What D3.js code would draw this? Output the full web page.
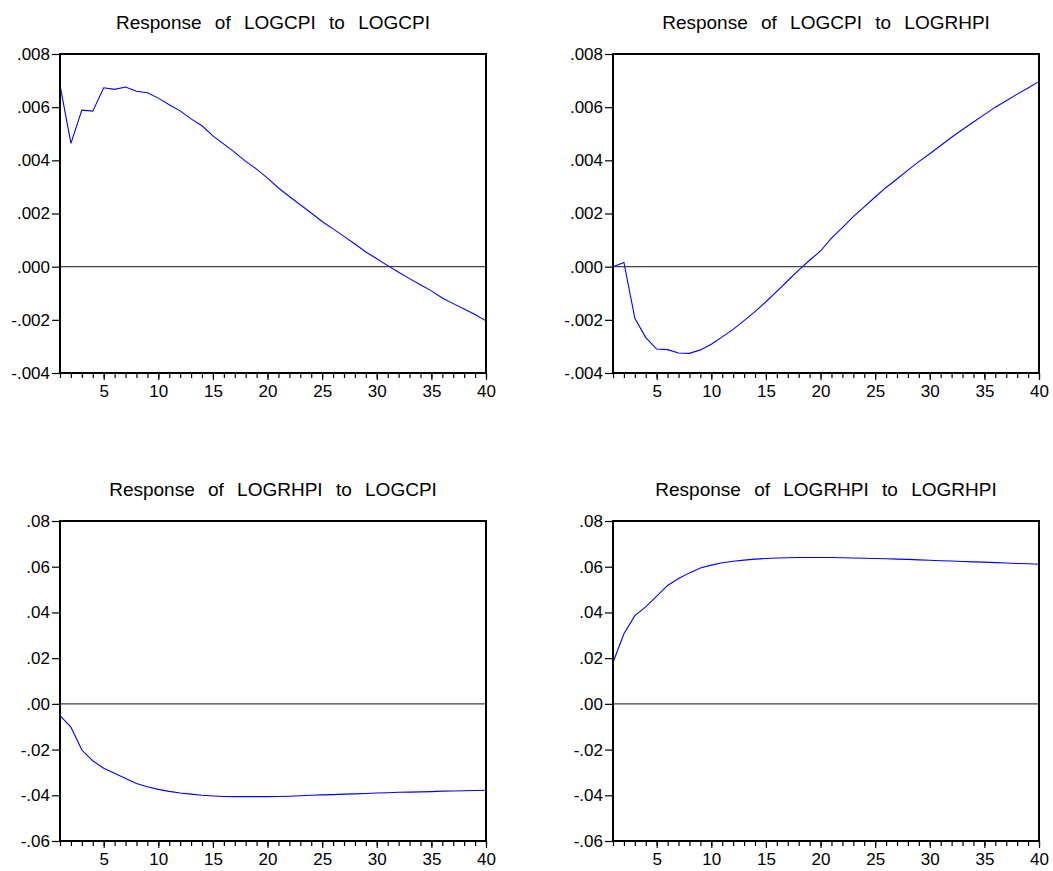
<!DOCTYPE html>
<html lang="en">
<head>
    <meta charset="UTF-8">
    <title>Impulse Responses</title>
    <style>
        body { margin: 0; background: #fff; }
        svg { display: block; font-family: Arial, "Liberation Sans", sans-serif; }
        .title { font-size: 19px; word-spacing: 8px; fill: #000; }
        .tick text { font-size: 17px; fill: #000; }
        .tick line { stroke: #000; }
        .domain { display: none; }
    </style>
</head>
<body>
    <div id="chart"></div>
    <script src="https://d3js.org/d3.v7.min.js"></script>
    <script>
        const width = 1053, height = 871;

        // horizon (periods)
        const periods = d3.range(1, 41);

        // Response of LOGCPI to LOGCPI
        const cpiToCpi = [
            0.00683, 0.00464, 0.00589, 0.00585, 0.00673, 0.00667, 0.00676, 0.00660, 0.00654, 0.00634,
            0.00609, 0.00586, 0.00556, 0.00530, 0.00492, 0.00461, 0.00430, 0.00396, 0.00367, 0.00333,
            0.00296, 0.00264, 0.00233, 0.00202, 0.00170, 0.00142, 0.00114, 0.00085, 0.00055, 0.00030,
            0.00004, -0.00021, -0.00045, -0.00068, -0.00091, -0.00118, -0.00139, -0.00159, -0.00180, -0.00204
        ];

        // Response of LOGCPI to LOGRHPI
        const cpiToRhpi = [
            0.00000, 0.00016, -0.00194, -0.00267, -0.00310, -0.00312, -0.00325, -0.00326, -0.00313, -0.00292,
            -0.00264, -0.00236, -0.00203, -0.00169, -0.00132, -0.00093, -0.00053, -0.00013, 0.00024, 0.00059,
            0.00107, 0.00147, 0.00188, 0.00225, 0.00262, 0.00298, 0.00330, 0.00363, 0.00395, 0.00425,
            0.00456, 0.00487, 0.00516, 0.00544, 0.00572, 0.00600, 0.00624, 0.00649, 0.00672, 0.00697
        ];

        // Response of LOGRHPI to LOGCPI
        const rhpiToCpi = [
            -0.0051, -0.0102, -0.0202, -0.0249, -0.0282, -0.0304, -0.0327, -0.0348, -0.0363, -0.0374,
            -0.0383, -0.0390, -0.0395, -0.0400, -0.0403, -0.0405, -0.0406, -0.0406, -0.0406, -0.0406,
            -0.0405, -0.0404, -0.0402, -0.0400, -0.0398, -0.0397, -0.0395, -0.0394, -0.0392, -0.0390,
            -0.0389, -0.0387, -0.0386, -0.0385, -0.0384, -0.0382, -0.0381, -0.0380, -0.0379, -0.0378
        ];

        // Response of LOGRHPI to LOGRHPI
        const rhpiToRhpi = [
            0.0181, 0.0307, 0.0386, 0.0424, 0.0471, 0.0518, 0.0548, 0.0573, 0.0594, 0.0607,
            0.0617, 0.0624, 0.0629, 0.0633, 0.0636, 0.0638, 0.0639, 0.0640, 0.0640, 0.0640,
            0.0640, 0.0639, 0.0638, 0.0637, 0.0636, 0.0635, 0.0633, 0.0632, 0.0630, 0.0628,
            0.0626, 0.0625, 0.0623, 0.0621, 0.0620, 0.0618, 0.0616, 0.0614, 0.0613, 0.0611
        ];

        const titles = [
            "Response of LOGCPI to LOGCPI",
            "Response of LOGCPI to LOGRHPI",
            "Response of LOGRHPI to LOGCPI",
            "Response of LOGRHPI to LOGRHPI"
        ];

        const cpiTicks = [-0.004, -0.002, 0, 0.002, 0.004, 0.006, 0.008];
        const rhpiTicks = [-0.06, -0.04, -0.02, 0, 0.02, 0.04, 0.06, 0.08];

        // drop the leading zero like ".008" / "-.02", plain hyphen for minus
        const fmt = digits => v => v.toFixed(digits).replace("0.", ".");

        const panels = [
            { series: cpiToCpi, ticks: cpiTicks, digits: 3, box: [60, 54, 486, 373] },
            { series: cpiToRhpi, ticks: cpiTicks, digits: 3, box: [613, 54, 1039, 373] },
            { series: rhpiToCpi, ticks: rhpiTicks, digits: 2, box: [60, 521, 486, 841] },
            { series: rhpiToRhpi, ticks: rhpiTicks, digits: 2, box: [613, 521, 1039, 841] }
        ];

        const svg = d3.select("#chart")
            .append("svg")
            .attr("width", width)
            .attr("height", height);

        panels.forEach((p, i) => {
            const [x0, y0, x1, y1] = p.box;
            const g = svg.append("g");

            const x = d3.scaleLinear().domain([1, 40]).range([x0, x1]);
            const y = d3.scaleLinear()
                .domain([p.ticks[0], p.ticks[p.ticks.length - 1]])
                .range([y1, y0]);

            // title
            g.append("text")
                .attr("class", "title")
                .attr("x", (x0 + x1) / 2)
                .attr("y", y0 - 25)
                .attr("text-anchor", "middle")
                .text(titles[i]);

            // y axis
            g.append("g")
                .attr("transform", `translate(${x0},0)`)
                .call(d3.axisLeft(y).tickValues(p.ticks).tickFormat(fmt(p.digits))
                    .tickSize(8).tickSizeOuter(0).tickPadding(2))
                .selectAll(".tick line").attr("stroke-width", 1.2);

            // x axis: minor ticks every period, labelled every 5
            g.append("g")
                .attr("transform", `translate(0,${y1})`)
                .call(d3.axisBottom(x).tickValues(periods).tickFormat("")
                    .tickSize(5).tickSizeOuter(0))
                .selectAll(".tick line").attr("stroke-width", 1.2);
            g.append("g")
                .attr("transform", `translate(0,${y1})`)
                .call(d3.axisBottom(x).tickValues(d3.range(5, 41, 5)).tickFormat(d3.format("d"))
                    .tickSize(7).tickSizeOuter(0).tickPadding(5))
                .selectAll(".tick line").attr("stroke-width", 1.2);

            // zero line
            g.append("line")
                .attr("x1", x0).attr("x2", x1)
                .attr("y1", y(0)).attr("y2", y(0))
                .attr("stroke", "#444")
                .attr("stroke-width", 1.2);

            // response line
            g.append("path")
                .datum(p.series)
                .attr("fill", "none")
                .attr("stroke", "#0000ff")
                .attr("stroke-width", 1.1)
                .attr("d", d3.line().x((d, j) => x(periods[j])).y(d => y(d)));

            // frame
            g.append("rect")
                .attr("x", x0).attr("y", y0)
                .attr("width", x1 - x0).attr("height", y1 - y0)
                .attr("fill", "none")
                .attr("stroke", "#000")
                .attr("stroke-width", 2);
        });
    </script>
</body>
</html>
